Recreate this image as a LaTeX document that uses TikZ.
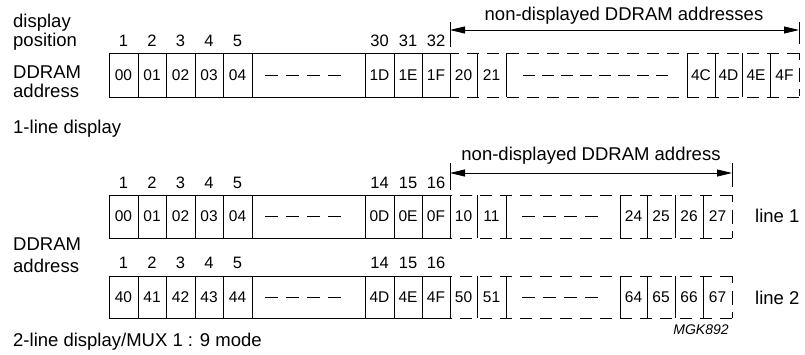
\documentclass[tikz,border=0pt]{standalone}
\usepackage{fontspec}
\setmainfont{Liberation Sans}
\usetikzlibrary{arrows.meta}
\begin{document}
\begin{tikzpicture}[x=1pt,y=-1pt,
  lbl/.style={font=\fontsize{18.5}{19}\selectfont, anchor=base west, inner sep=0pt},
  num/.style={font=\fontsize{16.5}{17}\selectfont, anchor=base, inner sep=0pt},
  cell/.style={font=\fontsize{15.5}{16}\selectfont, inner sep=0pt},
  tag/.style={font=\fontsize{14}{15}\selectfont\itshape, anchor=base, inner sep=0pt},
  box/.style={line width=1pt},
  dbox/.style={line width=1pt, dash pattern=on 12pt off 8pt},
  redge/.style={line width=1pt, dash pattern=on 7pt off 7.5pt on 14pt off 7.5pt on 7pt off 50pt},
  gap/.style={line width=1pt, dash pattern=on 13pt off 8pt},
  gapb/.style={line width=1pt, dash pattern=on 12pt off 7pt},
  dim/.style={line width=0.8pt},
  dimarrow/.style={line width=0.8pt, {Triangle[length=15pt,width=7pt]}-{Triangle[length=15pt,width=7pt]}},
]
\useasboundingbox (0,0) rectangle (805,354);

% ---------- 1-line display ----------
\node[lbl] (disp) at (13,27) {display};
\node[lbl] (pos) at (13,46.5) {position};
\node[lbl] (dd1) at (13,78) {DDRAM};
\node[lbl] (ad1) at (13,97) {address};

\foreach \x/\n in {123.5/1,152/2,180.5/3,209/4,237.5/5,379.5/30,408/31,436/32}
  \node[num] (p\n) at (\x,46.5) {\n};

% solid part
\draw[box] (109,53) rectangle (450,97);
\foreach \x in {138,166,195,223,252,365,394,422}
  \draw[box] (\x,53) -- (\x,97);
\foreach \x/\t in {123.5/00,152/01,180.5/02,209/03,237.5/04,379.5/1D,408/1E,436/1F}
  \node[cell] (a\t) at (\x,75) {\t};
\draw[gap] (265,75) -- (343,75);

% dashed part
\draw[dbox] (799,53) -- (450,53);
\draw[dbox] (799,97) -- (450,97);
\draw[redge] (799,53) -- (799,97);
\foreach \x in {477,506,687,715,742,770}
  \draw[box] (\x,53) -- (\x,97);
\foreach \x/\t in {463.5/20,491.5/21,701/4C,728.5/4D,756/4E,784.5/4F}
  \node[cell] (a\t) at (\x,75) {\t};
\draw[gapb] (523,75) -- (668,75);

% range arrow
\coordinate (t1a) at (450,22);
\coordinate (t1b) at (450,47);
\coordinate (t2a) at (799,22);
\coordinate (t2b) at (799,44);
\coordinate (ar1l) at (450,30);
\coordinate (ar1r) at (799,30);
\draw[dim] (t1a) -- (t1b);
\draw[dim] (t2a) -- (t2b);
\draw[dimarrow] (ar1l) -- (ar1r);
\node[lbl, anchor=base] (nd1) at (624,20.5) {non-displayed DDRAM addresses};

\node[lbl] (one) at (13,133) {1-line display};

% ---------- 2-line display ----------
\foreach \x/\n in {123.5/1,152/2,180.5/3,209/4,237.5/5,379.5/14,408/15,436/16}
  \node[num] (q\n) at (\x,188) {\n};
\foreach \x/\n in {123.5/1,152/2,180.5/3,209/4,237.5/5,379.5/14,408/15,436/16}
  \node[num] (r\n) at (\x,268) {\n};

\node[lbl] (dd2) at (13,250) {DDRAM};
\node[lbl] (ad2) at (13,272.5) {address};

% line 1
\draw[box] (109,195) rectangle (450,238);
\foreach \x in {138,166,195,223,252,365,394,422}
  \draw[box] (\x,195) -- (\x,238);
\foreach \x/\t in {123.5/00,152/01,180.5/02,209/03,237.5/04,379.5/0D,408/0E,436/0F}
  \node[cell] (b\t) at (\x,216.5) {\t};
\draw[gap] (265,216.5) -- (343,216.5);
\draw[dbox] (732,195) -- (450,195);
\draw[dbox] (732,238) -- (450,238);
\draw[redge] (732,195) -- (732,238);
\foreach \x in {477,506,620,647,675,703}
  \draw[box] (\x,195) -- (\x,238);
\foreach \x/\t in {463.5/10,491.5/11,633.5/24,661/25,689/26,717.5/27}
  \node[cell] (b\t) at (\x,216.5) {\t};
\draw[gap] (522,216.5) -- (598,216.5);

% line 2
\draw[box] (109,276) rectangle (450,318);
\foreach \x in {138,166,195,223,252,365,394,422}
  \draw[box] (\x,276) -- (\x,318);
\foreach \x/\t in {123.5/40,152/41,180.5/42,209/43,237.5/44,379.5/4D,408/4E,436/4F}
  \node[cell] (c\t) at (\x,297) {\t};
\draw[gap] (265,297) -- (343,297);
\draw[dbox] (732,276) -- (450,276);
\draw[dbox] (732,318) -- (450,318);
\draw[redge] (732,276) -- (732,318);
\foreach \x in {477,506,620,647,675,703}
  \draw[box] (\x,276) -- (\x,318);
\foreach \x/\t in {463.5/50,491.5/51,633.5/64,661/65,689/66,717.5/67}
  \node[cell] (c\t) at (\x,297) {\t};
\draw[gap] (522,297) -- (598,297);

% range arrow 2
\coordinate (u1a) at (450,163);
\coordinate (u1b) at (450,190);
\coordinate (u2a) at (732,163);
\coordinate (u2b) at (732,187);
\coordinate (ar2l) at (450,173);
\coordinate (ar2r) at (732,173);
\draw[dim] (u1a) -- (u1b);
\draw[dim] (u2a) -- (u2b);
\draw[dimarrow] (ar2l) -- (ar2r);
\node[lbl, anchor=base] (nd2) at (591,160) {non-displayed DDRAM address};

\node[lbl] (l1) at (755,222) {line 1};
\node[lbl] (l2) at (755,304) {line 2};

\node[lbl] (two) at (13,346) {2-line display/MUX 1 : 9 mode};
\node[tag] (mgk) at (701,334) {MGK892};
\end{tikzpicture}
\end{document}
